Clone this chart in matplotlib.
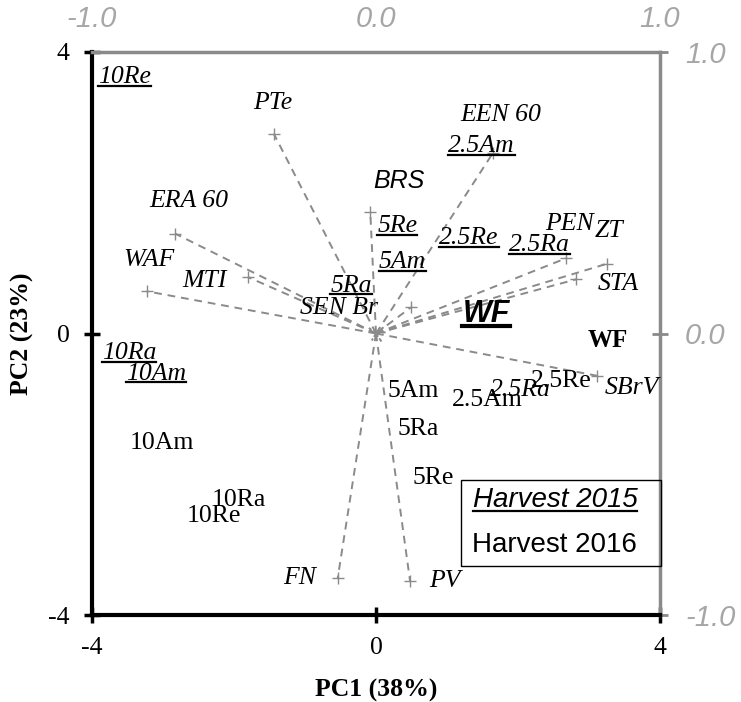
import matplotlib
matplotlib.use('Agg')
import matplotlib.pyplot as plt
from matplotlib.lines import Line2D
from matplotlib.patches import Rectangle
from matplotlib.transforms import IdentityTransform

plt.rcParams['axes.unicode_minus'] = False

# loadings (vector ends) - secondary scale shown x4
var_names = ['PTe', 'ERA 60', 'WAF', 'MTI', 'BRS', 'EEN 60', 'PEN', 'ZT', 'STA',
             'SEN Br', 'SBrV', 'FN', 'PV']
var_x = [-1.44, -2.83, -3.23, -1.80, -0.08, 1.65, 2.68, 3.25, 2.82, 0.49, 3.11, -0.54, 0.48]
var_y = [2.84, 1.42, 0.60, 0.80, 1.72, 2.57, 1.07, 0.99, 0.77, 0.37, -0.60, -3.48, -3.52]
# where the variable names sit
var_lx = [-1.46, -2.63, -3.20, -2.42, 0.32, 1.75, 2.72, 3.28, 3.41, -0.52, 3.61, -1.08, 0.97]
var_ly = [3.28, 1.88, 1.05, 0.75, 2.17, 3.11, 1.56, 1.45, 0.71, 0.36, -0.77, -3.48, -3.52]
# short vectors hidden in the centre
small_x = [0.12, -0.10, 0.08, -0.06, 0.15]
small_y = [0.10, 0.08, -0.12, -0.10, 0.02]

# scores, harvest 2015
h15_names = ['10Re', '2.5Am', '5Re', '2.5Re', '2.5Ra', '5Am', '5Ra', 'WF', '10Ra', '10Am']
h15_x = [-3.54, 1.49, 0.30, 1.31, 2.30, 0.37, -0.35, 1.55, -3.48, -3.10]
h15_y = [3.64, 2.66, 1.53, 1.35, 1.26, 1.01, 0.68, 0.28, -0.28, -0.57]

# scores, harvest 2016
h16_names = ['WF', '5Am', '2.5Am', '2.5Ra', '2.5Re', '10Am', '5Ra', '10Ra', '10Re', '5Re']
h16_x = [3.27, 0.52, 1.56, 2.04, 2.61, -3.01, 0.59, -1.93, -2.28, 0.80]
h16_y = [-0.10, -0.81, -0.94, -0.80, -0.67, -1.55, -1.36, -2.37, -2.59, -2.05]

serif = 'Liberation Serif'
sans = 'Liberation Sans'
gris = '#8a8a8a'
gris_claro = '#a6a6a6'

fig = plt.figure(figsize=(7.41, 7.02), dpi=100)
ax = fig.add_axes([92/741, 1 - 615/702, 568/741, 563/702])
ax.set_xlim(-4, 4)
ax.set_ylim(-4, 4)

for i in range(len(var_names)):
    ax.plot([0, var_x[i]], [0, var_y[i]], color=gris, lw=1.4, ls=(0, (4, 3)), zorder=2)
    ax.plot(var_x[i], var_y[i], marker='+', color=gris, ms=9, mew=1.0, zorder=3)
for i in range(len(small_x)):
    ax.plot([0, small_x[i]], [0, small_y[i]], color=gris, lw=1.4, ls=(0, (2, 1)), zorder=2)

sublinhar = []
for i in range(len(var_names)):
    if var_names[i] == 'BRS':
        ax.text(var_lx[i], var_ly[i], var_names[i], family=sans, style='italic',
                fontsize=18, ha='center', va='center')
    else:
        ax.text(var_lx[i], var_ly[i], var_names[i], family=serif, style='italic',
                fontsize=18.5, ha='center', va='center')

for i in range(len(h15_names)):
    if h15_names[i] == 'WF':
        t = ax.text(h15_x[i], h15_y[i], 'WF', family=sans, style='italic',
                    weight='bold', fontsize=22, ha='center', va='center')
    else:
        t = ax.text(h15_x[i], h15_y[i], h15_names[i], family=serif, style='italic',
                    fontsize=18.5, ha='center', va='center')
    sublinhar.append(t)

for i in range(len(h16_names)):
    if h16_names[i] == 'WF':
        ax.text(h16_x[i], h16_y[i], 'WF', family=serif, weight='bold',
                fontsize=18, ha='center', va='center')
    elif h16_names[i] == '2.5Ra':
        ax.text(h16_x[i], h16_y[i], h16_names[i], family=serif, style='italic',
                fontsize=18.5, ha='center', va='center')
    else:
        ax.text(h16_x[i], h16_y[i], h16_names[i], family=serif,
                fontsize=18.5, ha='center', va='center')

# legenda
ax.add_patch(Rectangle((0.650, 0.087), 0.352, 0.153, transform=ax.transAxes,
                       fill=False, ec='black', lw=1.0, zorder=5, clip_on=False))
leg = ax.text(0.815, 0.204, 'Harvest 2015', transform=ax.transAxes, family=sans,
              style='italic', fontsize=20, ha='center', va='center')
sublinhar.append(leg)
ax.text(0.815, 0.124, 'Harvest 2016', transform=ax.transAxes, family=sans,
        fontsize=20, ha='center', va='center')

# eixos principais
ax.spines['left'].set_linewidth(3)
ax.spines['bottom'].set_linewidth(3)
ax.spines['top'].set_color(gris)
ax.spines['top'].set_linewidth(2.5)
ax.spines['right'].set_color(gris)
ax.spines['right'].set_linewidth(2.5)
ax.set_xticks([-4, 0, 4])
ax.set_yticks([-4, 0, 4])
ax.tick_params(direction='inout', length=12, width=2.5, labelsize=18.5, pad=10)
for lab in ax.get_xticklabels() + ax.get_yticklabels():
    lab.set_family(serif)
ax.set_xlabel('PC1 (38%)', family=serif, weight='bold', fontsize=18.5, labelpad=14)
ax.set_ylabel('PC2 (23%)', family=serif, weight='bold', fontsize=18.5, labelpad=10)

# eixos secundarios (-1 a 1)
sx = ax.secondary_xaxis('top', functions=(lambda v: v / 4, lambda v: v * 4))
sx.set_xticks([-1, 0, 1])
sx.set_xticklabels(['-1.0', '0.0', '1.0'])
sx.tick_params(length=0, labelcolor=gris_claro, labelsize=21, pad=14)
sy = ax.secondary_yaxis('right', functions=(lambda v: v / 4, lambda v: v * 4))
sy.set_yticks([-1, 0, 1])
sy.set_yticklabels(['-1.0', '0.0', '1.0'])
sy.tick_params(direction='inout', length=12, width=2.0, color=gris, labelcolor=gris_claro,
               labelsize=21, pad=12)
for s in (sx, sy):
    for sp in s.spines.values():
        sp.set_visible(False)
    for lab in s.get_xticklabels() + s.get_yticklabels():
        lab.set_family(sans)
        lab.set_style('italic')

# sublinhado manual
fig.canvas.draw()
r = fig.canvas.get_renderer()
for t in sublinhar:
    bb = t.get_window_extent(r)
    y = bb.y0 + 0.10 * bb.height
    fig.add_artist(Line2D([bb.x0, bb.x1], [y, y], transform=IdentityTransform(),
                          color='black', lw=1.6 if t.get_weight() != 'bold' else 3))

fig.savefig('out.png', dpi=100)
